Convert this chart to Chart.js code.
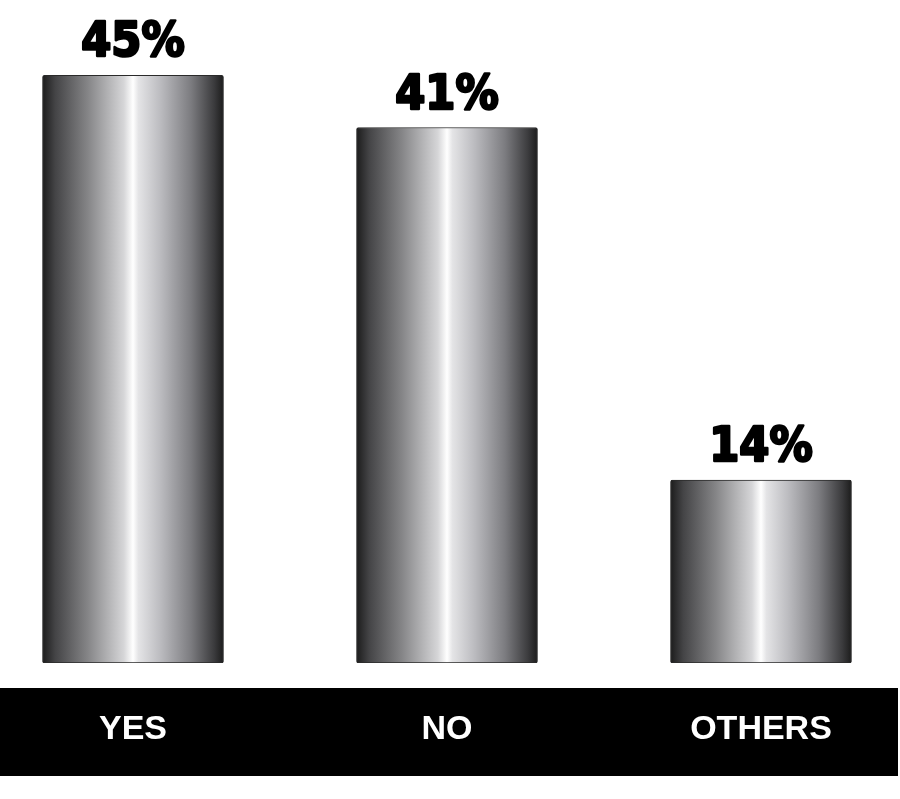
<!DOCTYPE html>
<html>
<head>
<meta charset="utf-8">
<script src="https://cdn.jsdelivr.net/npm/chart.js@4.4.1/dist/chart.umd.min.js"></script>
<style>
  html, body { margin: 0; padding: 0; background: #ffffff; overflow: hidden; }
  #wrap { position: absolute; left: -24px; top: 0; width: 942px; height: 799px; }
</style>
</head>
<body>
<div id="wrap"><canvas id="c" width="942" height="799"></canvas></div>
<script>
const categories = ["YES", "NO", "OTHERS"];
const values = [45, 41, 14];
const valueLabels = ["45%", "41%", "14%"];

function barGradient(ctx) {
  const chart = ctx.chart;
  const xs = chart.scales && chart.scales.x;
  if (!chart.chartArea || !xs || ctx.dataIndex === undefined) return '#999';
  const cx = xs.getPixelForValue(ctx.dataIndex);
  const w = 181;
  const g = chart.ctx.createLinearGradient(cx - w / 2, 0, cx + w / 2, 0);
  g.addColorStop(0.00, '#1c1c1c');
  g.addColorStop(0.07, '#444446');
  g.addColorStop(0.25, '#858587');
  g.addColorStop(0.45, '#d6d6d8');
  g.addColorStop(0.50, '#ffffff');
  g.addColorStop(0.53, '#e4e4e6');
  g.addColorStop(0.65, '#bcbcc0');
  g.addColorStop(0.82, '#7c7c80');
  g.addColorStop(0.95, '#3a3a3c');
  g.addColorStop(1.00, '#1c1c1c');
  return g;
}

const bandPlugin = {
  id: 'band',
  beforeDraw(chart) {
    const c = chart.ctx;
    c.save();
    c.fillStyle = '#000000';
    c.fillRect(24, 688, 898, 88);
    c.restore();
  }
};

const valuePlugin = {
  id: 'values',
  afterDatasetsDraw(chart) {
    const c = chart.ctx;
    const meta = chart.getDatasetMeta(0);
    c.save();
    c.fillStyle = '#000000';
    c.strokeStyle = '#000000';
    c.lineWidth = 2.5;
    c.lineJoin = 'round';
    c.font = "bold 48px 'DejaVu Sans Condensed', 'DejaVu Sans', sans-serif";
    c.textAlign = 'center';
    c.textBaseline = 'alphabetic';
    meta.data.forEach((el, i) => {
      c.strokeText(valueLabels[i], el.x, el.y - 19);
      c.fillText(valueLabels[i], el.x, el.y - 19);
    });
    c.restore();
  }
};

new Chart(document.getElementById('c'), {
  type: 'bar',
  data: {
    labels: categories,
    datasets: [{
      data: values,
      backgroundColor: barGradient,
      borderColor: '#2a2a2a',
      borderWidth: 1,
      borderRadius: 2,
      borderSkipped: false,
      barThickness: 181
    }]
  },
  options: {
    responsive: false,
    animation: false,
    layout: { padding: { top: 10, left: 0, right: 0, bottom: 0 } },
    plugins: { legend: { display: false }, tooltip: { enabled: false } },
    scales: {
      x: {
        grid: { display: false, drawTicks: false },
        border: { display: false },
        ticks: {
          color: '#ffffff',
          font: { family: "'Liberation Sans', Arial, sans-serif", size: 34, weight: 'bold' },
          padding: 46
        },
        afterFit(scale) { scale.height = 136; }
      },
      y: {
        display: false,
        min: 0,
        max: 50
      }
    }
  },
  plugins: [bandPlugin, valuePlugin]
});
</script>
</body>
</html>
